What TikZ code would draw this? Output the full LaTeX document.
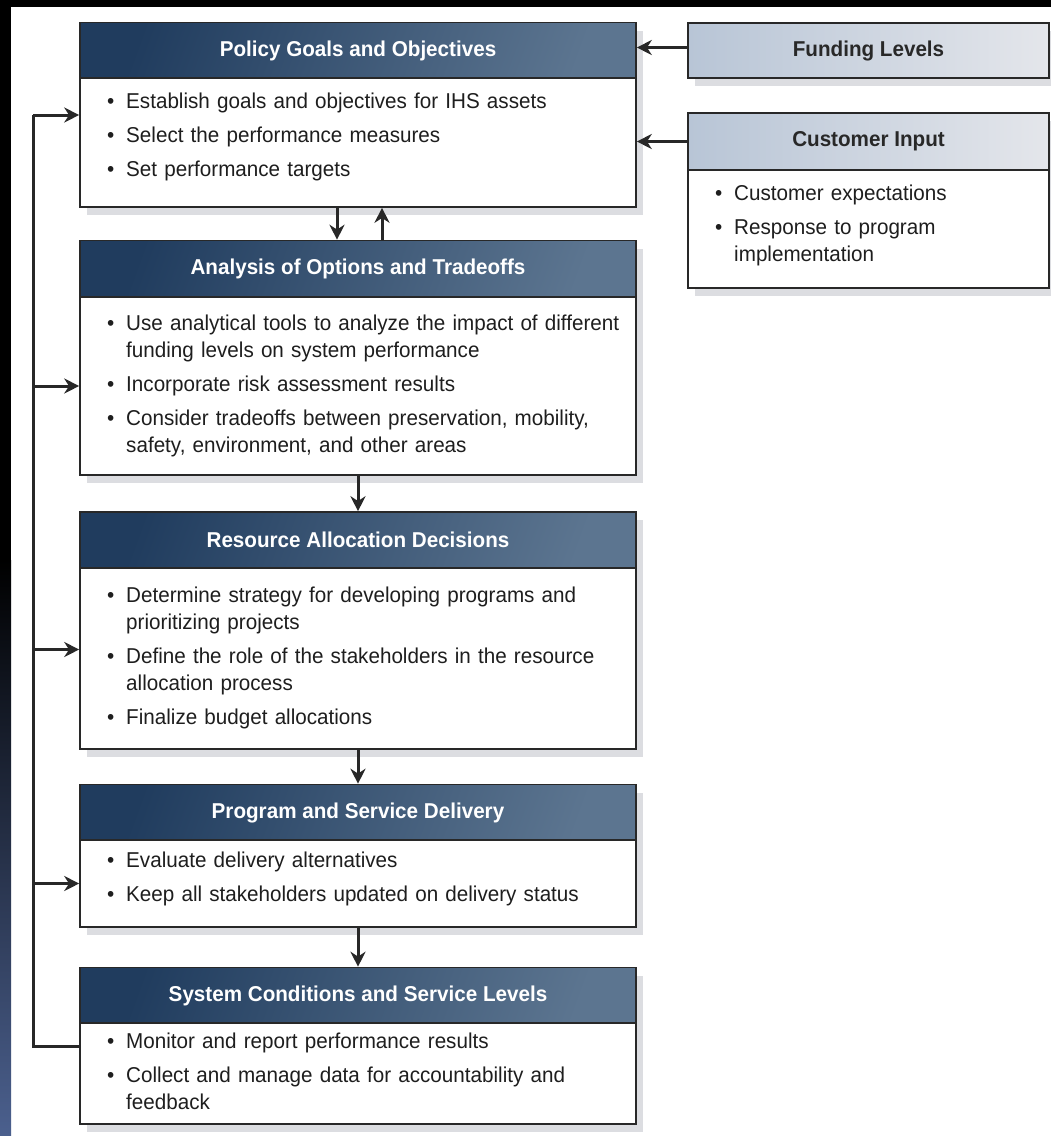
\documentclass[tikz,border=0pt]{standalone}
\usepackage{fontspec}
\setmainfont{Liberation Sans}[FakeStretch=0.96]
\usetikzlibrary{arrows.meta,shadows}
\definecolor{headDark}{RGB}{32,60,94}
\definecolor{headLight}{RGB}{92,117,144}
\definecolor{sideDark}{RGB}{184,197,214}
\definecolor{sideLight}{RGB}{228,230,235}
\definecolor{shadowGray}{RGB}{220,221,225}
\definecolor{lineGray}{RGB}{40,40,40}
\definecolor{textGray}{RGB}{30,30,30}
\definecolor{stripMid}{RGB}{28,37,56}
\definecolor{stripBlue}{RGB}{75,96,142}
\tikzset{
	boxshadow/.style={drop shadow={shadow xshift=7pt, shadow yshift=-8pt, fill=shadowGray, opacity=1}},
	head/.style={shape=rectangle, draw=lineGray, line width=1.6pt, minimum width=556pt, minimum height=56pt, left color=headDark, right color=headLight, shading angle=70, text=white, font=\bfseries\fontsize{21.5}{26}\selectfont, boxshadow},
	body/.style={shape=rectangle, draw=lineGray, line width=1.6pt, fill=white, minimum width=556pt, text width=502pt, inner xsep=27pt, align=left, text=textGray, font=\fontsize{21.5}{27}\selectfont, boxshadow},
	sidehead/.style={head, minimum width=361pt, left color=sideDark, right color=sideLight, text=lineGray},
	sidebody/.style={body, minimum width=361pt, text width=307pt},
	wire/.style={draw=lineGray, line width=3pt},
	flow/.style={wire, -{Stealth[length=15pt, width=15pt]}}
}
\begin{document}
\begin{tikzpicture}[x=1pt, y=-1pt]
	\useasboundingbox (0, 0) rectangle (1051, 1136);
	% Background, boxes and wires:
	\fill[white] (0, 0) rectangle (1051, 1136);
	\fill[black] (0, 0) rectangle (1051, 7);
	\fill[black] (0, 0) rectangle (11, 560);
	\shade[top color=black, middle color=stripMid, bottom color=stripBlue] (0, 560) rectangle (11, 1136);
	\node[head](goalsHead) at (358, 50.5){Policy Goals and Objectives};
	\node[body, minimum height=129pt](goalsBody) at (358, 142.5){\begin{tabular}{@{}l@{\hspace{12pt}}l@{}}\textbullet & Establish goals and objectives for IHS assets\\[7pt] \textbullet & Select the performance measures\\[7pt] \textbullet & Set performance targets\\[10pt]\end{tabular}};
	\node[head](analysisHead) at (358, 268.5){Analysis of Options and Tradeoffs};
	\node[body, minimum height=178pt](analysisBody) at (358, 386){\begin{tabular}{@{}l@{\hspace{12pt}}l@{}}\textbullet & Use analytical tools to analyze the impact of different\\ & funding levels on system performance\\[7pt] \textbullet & Incorporate risk assessment results\\[7pt] \textbullet & Consider tradeoffs between preservation, mobility,\\ & safety, environment, and other areas\end{tabular}};
	\node[head](resourceHead) at (358, 540){Resource Allocation Decisions};
	\node[body, minimum height=181pt](resourceBody) at (358, 658.5){\begin{tabular}{@{}l@{\hspace{12pt}}l@{}}\textbullet & Determine strategy for developing programs and\\ & prioritizing projects\\[7pt] \textbullet & Define the role of the stakeholders in the resource\\ & allocation process\\[7pt] \textbullet & Finalize budget allocations\end{tabular}};
	\node[head](deliveryHead) at (358, 812.5){Program and Service Delivery};
	\node[body, minimum height=87pt](deliveryBody) at (358, 883.5){\begin{tabular}{@{}l@{\hspace{12pt}}l@{}}\textbullet & Evaluate delivery alternatives\\[7pt] \textbullet & Keep all stakeholders updated on delivery status\\[8pt]\end{tabular}};
	\node[head](systemHead) at (358, 995.5){System Conditions and Service Levels};
	\node[body, minimum height=101pt](systemBody) at (358, 1073.5){\begin{tabular}{@{}l@{\hspace{12pt}}l@{}}\textbullet & Monitor and report performance results\\[7pt] \textbullet & Collect and manage data for accountability and\\ & feedback\end{tabular}};
	\node[sidehead, minimum height=55pt](funding) at (868.5, 50.5){Funding Levels};
	\node[sidehead, minimum height=57pt](custHead) at (868.5, 141.5){Customer Input};
	\node[sidebody, minimum height=118pt](custBody) at (868.5, 229){\begin{tabular}{@{}l@{\hspace{12pt}}l@{}}\textbullet & Customer expectations\\[7pt] \textbullet & Response to program\\ & implementation\\[6pt]\end{tabular}};
	\coordinate (fbTop) at (33, 115);
	\coordinate (sysOut) at ([yshift=27.5pt]systemBody.west);
	\coordinate (resIn) at ([yshift=9pt]resourceBody.west);
	\coordinate (fundIn) at ([yshift=3pt]funding.west);
	\draw[flow] ([xshift=-21pt]goalsBody.south) -- ([xshift=-21pt]analysisHead.north);
	\draw[flow] ([xshift=24pt]analysisHead.north) -- ([xshift=24pt]goalsBody.south);
	\draw[flow] (analysisBody.south) -- (resourceHead.north);
	\draw[flow] (resourceBody.south) -- (deliveryHead.north);
	\draw[flow] (deliveryBody.south) -- (systemHead.north);
	\draw[flow] (fundIn) -- (fundIn -| goalsHead.east);
	\draw[flow] (custHead.west) -- (custHead.west -| goalsBody.east);
	\draw[wire] (sysOut) -| (fbTop);
	\draw[flow] (fbTop) -- (fbTop -| goalsBody.west);
	\draw[flow] (fbTop |- analysisBody.west) -- (analysisBody.west);
	\draw[flow] (fbTop |- resIn) -- (resIn);
	\draw[flow] (fbTop |- deliveryBody.west) -- (deliveryBody.west);
\end{tikzpicture}
\end{document}
